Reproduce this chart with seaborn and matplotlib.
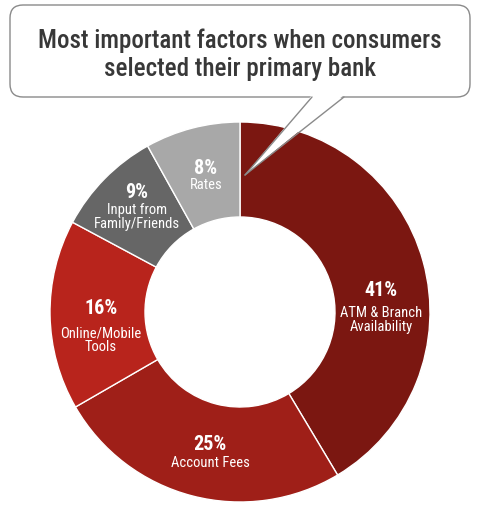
import matplotlib
matplotlib.use("Agg")
import matplotlib.pyplot as plt
import seaborn as sns
from matplotlib.patches import FancyBboxPatch, Polygon
from matplotlib.lines import Line2D

# ---- data ----
categories = ["ATM & Branch\nAvailability", "Account Fees", "Online/Mobile\nTools",
              "Input from\nFamily/Friends", "Rates"]
values = [41, 25, 16, 9, 8]
pct_labels = ["41%", "25%", "16%", "9%", "8%"]
title_text = "Most important factors when consumers\nselected their primary bank"

colors = ["#7B1711", "#9F1F18", "#B8241C", "#666666", "#A8A8A8"]

sns.set_theme(style="white")
plt.rcParams["font.family"] = ["Roboto Condensed", "DejaVu Sans"]

W, H = 482, 505
fig = plt.figure(figsize=(W / 100, H / 100), dpi=100)
fig.patch.set_facecolor("white")

# donut axes: center (240,312) px, radius 190 px
cx, cy, R = 240, 312, 190
ax = fig.add_axes([(cx - R) / W, (H - cy - R) / H, 2 * R / W, 2 * R / H])
palette = sns.color_palette(colors)
wedges, _ = ax.pie(values, colors=palette, startangle=90, counterclock=False,
                   radius=1.0, wedgeprops=dict(width=0.5, edgecolor="white", linewidth=1.0))
ax.set_xlim(-1, 1)
ax.set_ylim(-1, 1)
ax.set_aspect("equal")
ax.axis("off")

# overlay axes in pixel coordinates
ov = fig.add_axes([0, 0, 1, 1], zorder=5)
ov.set_xlim(0, W)
ov.set_ylim(H, 0)
ov.axis("off")
ov.patch.set_alpha(0)

# label positions (px): percentage line y, label y
label_pos = [(381, 290, 320), (210, 444, 463), (101, 309, 340), (137, 193, 217), (206, 168, 185)]
for (x, yp, yl), pct, cat in zip(label_pos, pct_labels, categories):
    ov.text(x, yp, pct, ha="center", va="center", color="white",
            fontsize=14.5, fontweight="bold")
    ov.text(x, yl, cat, ha="center", va="center", color="white",
            fontsize=10.5, linespacing=0.95)

# callout bubble
box = FancyBboxPatch((10, 5), 460, 92, boxstyle="round,pad=0,rounding_size=13",
                     facecolor="white", edgecolor="#8a8a8a", linewidth=1.0)
ov.add_patch(box)
tail = Polygon([(312, 95), (344, 95), (245, 175)], closed=True,
               facecolor="white", edgecolor="none")
ov.add_patch(tail)
ov.add_line(Line2D([312, 245], [97, 175], color="#8a8a8a", linewidth=1.0))
ov.add_line(Line2D([344, 245], [97, 175], color="#8a8a8a", linewidth=1.0))

ov.text(240, 55, title_text, ha="center", va="center", color="#383838",
        fontsize=18, fontweight="medium", linespacing=1.2)

fig.savefig("out.png", dpi=100)
